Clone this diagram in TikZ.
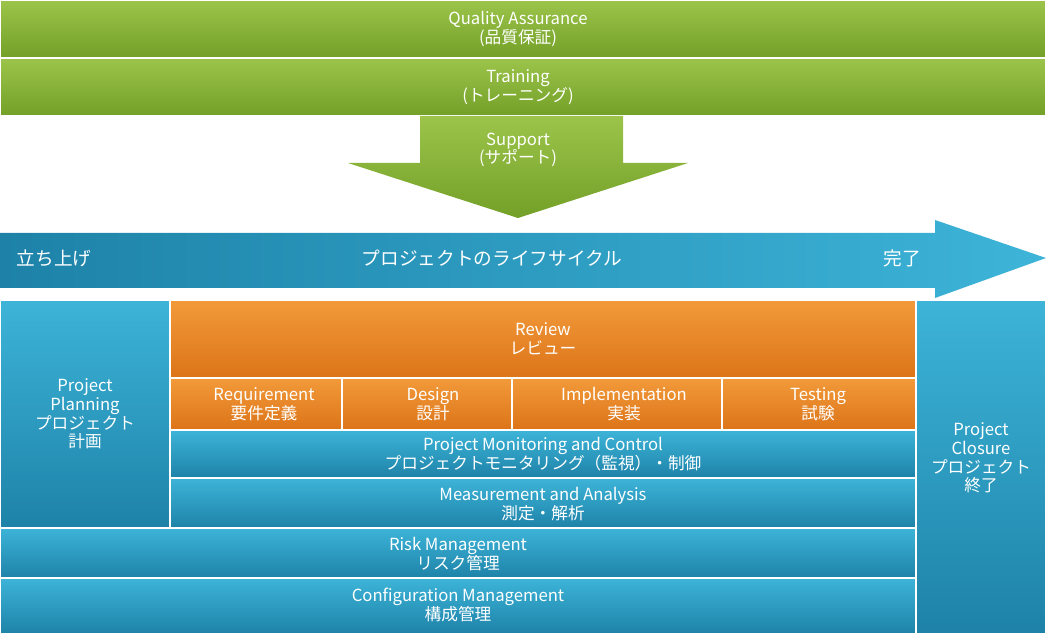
\documentclass[tikz,border=0pt]{standalone}
\usepackage{fontspec}
\setmainfont{Noto Sans CJK JP}
\begin{document}
\begin{tikzpicture}[x=0.75pt,y=-0.75pt,
  grn/.style={top color=green!45!olive!60!white!90!black, bottom color=green!50!olive!80!black, draw=white, line width=0.8pt},
  blu/.style={top color=cyan!70!blue!55!white, bottom color=cyan!65!blue!75!black, draw=white, line width=0.8pt},
  org/.style={top color=orange!85!yellow, bottom color=orange!85!red!90!black, draw=white, line width=0.8pt},
  lbl/.style={text=white, align=center, font=\fontsize{12.5}{14}\selectfont}]
\useasboundingbox (0,0) rectangle (1046,634);
\definecolor{G1}{HTML}{9CC44A}\definecolor{G2}{HTML}{73A028}
\definecolor{B1}{HTML}{3DB4D8}\definecolor{B2}{HTML}{1E82A8}
\definecolor{O1}{HTML}{F29A3A}\definecolor{O2}{HTML}{DC7418}
\tikzset{grn/.style={top color=G1,bottom color=G2,draw=white,line width=0.8pt},
 blu/.style={top color=B1,bottom color=B2,draw=white,line width=0.8pt},
 blh/.style={left color=B2,right color=B1,draw=white,line width=0.8pt},
 org/.style={top color=O1,bottom color=O2,draw=white,line width=0.8pt}}
% top
\draw[grn] (0,0) rectangle (1046,58);
\node[lbl] (qa) at (518,29) {Quality Assurance\\(品質保証)};
\draw[grn] (0,58) rectangle (1046,116);
\node[lbl] (tr) at (518,87) {Training\\(トレーニング)};
\path[grn,draw=none] (420,116) -- (623,116) -- (623,163) -- (688,163) -- (518,218) -- (348,163) -- (420,163) -- cycle;
\node[lbl] (sp) at (518,150) {Support\\(サポート)};
% lifecycle arrow
\path[blh,draw=none] (0,233) -- (935,233) -- (935,220) -- (1046,258) -- (935,298) -- (935,288) -- (0,288) -- cycle;
\node[lbl,anchor=west,font=\fontsize{14}{16}\selectfont] (st) at (12,258) {立ち上げ};
\node[lbl,font=\fontsize{14}{16}\selectfont] (lc) at (492,258) {プロジェクトのライフサイクル};
\node[lbl,font=\fontsize{14}{16}\selectfont] (en) at (902,258) {完了};
% bottom
\draw[blu] (0,300) rectangle (170,528);
\node[lbl] (pp) at (85,414) {Project\\Planning\\プロジェクト\\計画};
\draw[blu] (916,300) rectangle (1046,634);
\node[lbl] (pc) at (981,458) {Project\\Closure\\プロジェクト\\終了};
\draw[org] (170,300) rectangle (916,378);
\node[lbl] (rv) at (543,339) {Review\\レビュー};
\draw[org] (170,378) rectangle (342,430);
\draw[org] (342,378) rectangle (512,430);
\draw[org] (512,378) rectangle (722,430);
\draw[org] (722,378) rectangle (916,430);
\node[lbl] (rq) at (264,404) {Requirement\\要件定義};
\node[lbl] (ds) at (433,404) {Design\\設計};
\node[lbl] (im) at (624,404) {Implementation\\実装};
\node[lbl] (ts) at (818,404) {Testing\\試験};
\draw[blu] (170,430) rectangle (916,478);
\node[lbl] (pm) at (543,454) {Project Monitoring and Control\\プロジェクトモニタリング（監視）・制御};
\draw[blu] (170,478) rectangle (916,528);
\node[lbl] (ma) at (543,504) {Measurement and Analysis\\測定・解析};
\draw[blu] (0,528) rectangle (916,578);
\node[lbl] (rm) at (458,554) {Risk Management\\リスク管理};
\draw[blu] (0,578) rectangle (916,634);
\node[lbl] (cm) at (458,605) {Configuration Management\\構成管理};
\end{tikzpicture}
\end{document}
